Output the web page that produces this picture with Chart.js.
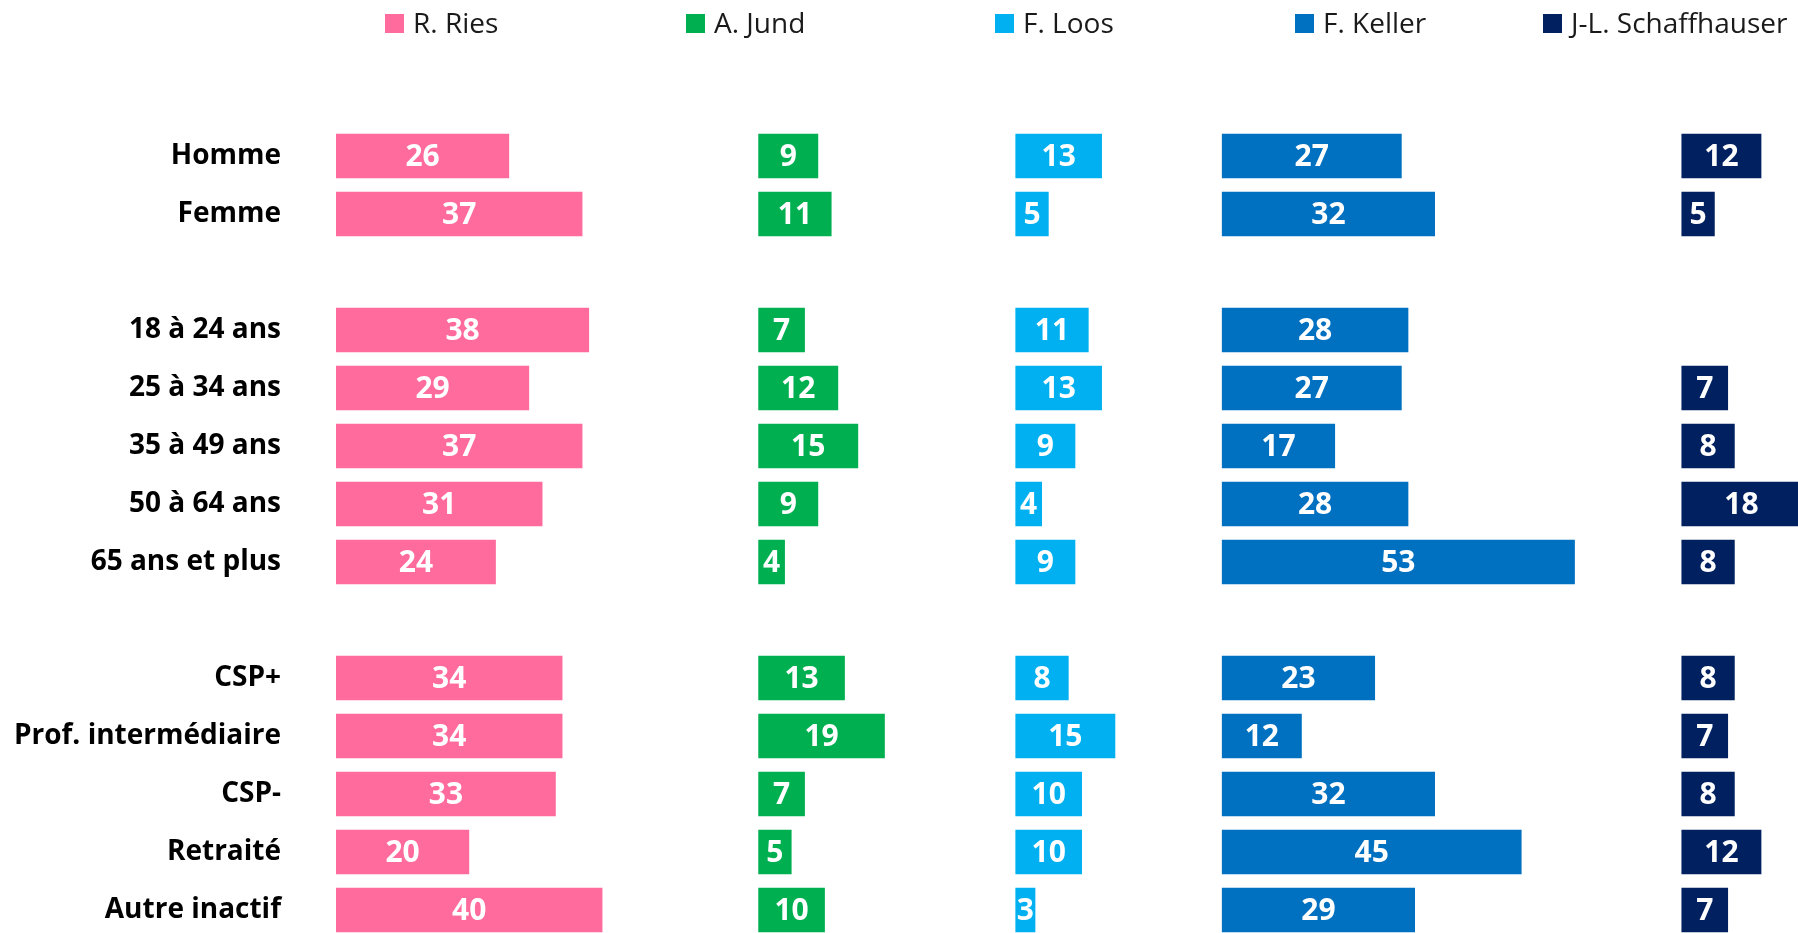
<!DOCTYPE html>
<html>
<head>
<meta charset="utf-8">
<script src="https://cdn.jsdelivr.net/npm/chart.js@4.4.0/dist/chart.umd.min.js"></script>
<style>
  html, body { margin: 0; padding: 0; background: #fff; }
  #wrap { width: 1798px; height: 933px; }
</style>
</head>
<body>
<div id="wrap"><canvas id="chart"></canvas></div>
<script>
// rows, with empty rows used as separators between groups
var categories = ['Homme', 'Femme', ' ', '18 à 24 ans', '25 à 34 ans', '35 à 49 ans', '50 à 64 ans',
  '65 ans et plus', '  ', 'CSP+', 'Prof. intermédiaire', 'CSP-', 'Retraité', 'Autre inactif'];

var seriesNames = ['R. Ries', 'A. Jund', 'F. Loos', 'F. Keller', 'J-L. Schaffhauser'];

var ries   = [26, 37, null, 38, 29, 37, 31, 24, null, 34, 34, 33, 20, 40];
var jund   = [9, 11, null, 7, 12, 15, 9, 4, null, 13, 19, 7, 5, 10];
var loos   = [13, 5, null, 11, 13, 9, 4, 9, null, 8, 15, 10, 10, 3];
var keller = [27, 32, null, 28, 27, 17, 28, 53, null, 23, 12, 32, 45, 29];
var schaff = [12, 5, null, null, 7, 8, 18, 8, null, 8, 7, 8, 12, 7];

var colors = ['#FF6B9C', '#00B050', '#00B0F0', '#0070C0', '#002060'];
// where each candidate's column begins on the value axis
var columnStart = [0, 63.4, 102, 133, 202];

var FONT = "'Open Sans', 'Noto Sans', sans-serif";

var seriesValues = [ries, jund, loos, keller, schaff];

var datasets = seriesValues.map(function (vals, i) {
  return {
    label: seriesNames[i],
    values: vals,
    data: vals.map(function (v) {
      return v == null ? null : [columnStart[i], columnStart[i] + v];
    }),
    backgroundColor: colors[i],
    borderWidth: 0,
    grouped: false,
    clip: false,
    categoryPercentage: 1,
    barPercentage: 0.77
  };
});

var barLabels = {
  id: 'barLabels',
  afterDatasetsDraw: function (chart) {
    var ctx = chart.ctx;
    ctx.save();
    ctx.font = 'bold 30px ' + FONT;
    ctx.fillStyle = '#ffffff';
    ctx.textAlign = 'center';
    ctx.textBaseline = 'middle';
    chart.data.datasets.forEach(function (ds, i) {
      var meta = chart.getDatasetMeta(i);
      meta.data.forEach(function (bar, j) {
        var v = ds.values[j];
        if (v == null) return;
        ctx.fillText(String(v), (bar.x + bar.base) / 2, bar.y + 1);
      });
    });
    ctx.restore();
  }
};

// legend spread across the top like the original slide
var topLegend = {
  id: 'topLegend',
  afterDraw: function (chart, args, opts) {
    var ctx = chart.ctx;
    ctx.save();
    ctx.font = '28px ' + FONT;
    ctx.textBaseline = 'middle';
    ctx.textAlign = 'left';
    chart.data.datasets.forEach(function (ds, i) {
      var x = opts.xs[i];
      ctx.fillStyle = ds.backgroundColor;
      ctx.fillRect(x, 14, 19, 19);
      ctx.fillStyle = '#1a1a1a';
      ctx.fillText(ds.label, x + 28, 25);
    });
    ctx.restore();
  }
};

new Chart(document.getElementById('chart'), {
  type: 'bar',
  data: { labels: categories, datasets: datasets },
  plugins: [barLabels, topLegend],
  options: {
    indexAxis: 'y',
    responsive: true,
    maintainAspectRatio: false,
    animation: false,
    layout: { padding: { top: 156, bottom: 23, left: 0, right: 0 } },
    plugins: {
      legend: { display: false },
      tooltip: { enabled: false },
      topLegend: { xs: [385, 686, 995, 1295, 1543] }
    },
    scales: {
      x: {
        display: false,
        min: 0,
        max: 219.5
      },
      y: {
        offset: false,
        grid: { display: false },
        border: { display: false },
        afterFit: function (axis) {
          axis.width = 336;
          axis.paddingTop = 0;
          axis.paddingBottom = 0;
        },
        ticks: {
          autoSkip: false,
          padding: 47,
          color: '#000000',
          font: { family: FONT, size: 28, weight: 'bold' }
        }
      }
    }
  }
});
</script>
</body>
</html>
